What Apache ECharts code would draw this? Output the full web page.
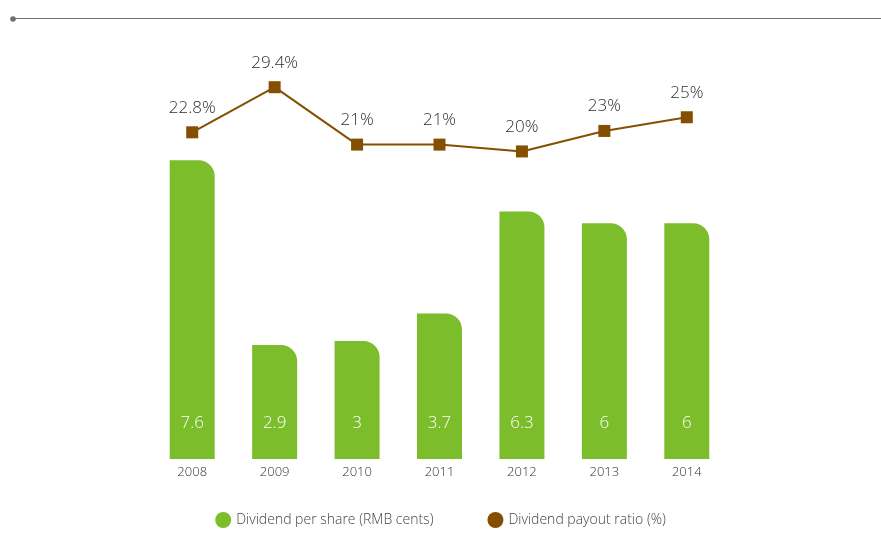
<!DOCTYPE html>
<html><head><meta charset="utf-8">
<script src="https://cdn.jsdelivr.net/npm/echarts@6/dist/echarts.min.js"></script>
<style>html,body{margin:0;padding:0;background:#fff}#c{width:881px;height:551px}</style>
</head><body><div id="c"></div>
<script>
var years = ['2008','2009','2010','2011','2012','2013','2014'];
var dividendPerShare = [7.6, 2.9, 3, 3.7, 6.3, 6, 6];
var payoutRatio = [22.8, 29.4, 21, 21, 20, 23, 25];
var seriesNames = ['Dividend per share (RMB cents)', 'Dividend payout ratio (%)'];

var FONT = '"Open Sans", "Noto Sans", sans-serif';
var chart = echarts.init(document.getElementById('c'), null, {renderer: 'canvas'});
chart.setOption({
  animation: false,
  textStyle: {fontFamily: FONT},
  graphic: [
    {type: 'line', shape: {x1: 13, y1: 18.5, x2: 881, y2: 18.5}, style: {stroke: '#6f6f6f', lineWidth: 1.2}},
    {type: 'circle', shape: {cx: 13, cy: 19, r: 2.8}, style: {fill: '#6f6f6f'}}
  ],
  grid: {left: 151, right: 153, top: 66, bottom: 92, containLabel: false},
  legend: {
    bottom: 18, left: 'center', itemGap: 54, itemWidth: 16, itemHeight: 16,
    textStyle: {fontSize: 14, color: '#444', fontFamily: FONT, fontWeight: 300},
    data: [
      {name: seriesNames[0], icon: 'circle', itemStyle: {color: '#7bbd2a'}},
      {name: seriesNames[1], icon: 'circle', itemStyle: {color: '#844f00'}}
    ]
  },
  xAxis: {
    type: 'category', data: years,
    axisLine: {show: false}, axisTick: {show: false},
    axisLabel: {color: '#333', fontSize: 13, margin: 7, fontFamily: FONT, fontWeight: 300}
  },
  yAxis: [
    {type: 'value', min: 0, max: 10, show: false},
    {type: 'value', min: -25, max: 32.5, show: false}
  ],
  series: [
    {
      name: seriesNames[0], type: 'bar', yAxisIndex: 0, data: dividendPerShare,
      barWidth: 45,
      itemStyle: {color: '#7bbd2a', borderRadius: [0, 16, 0, 0]},
      label: {show: true, position: 'insideBottom', distance: 27, color: '#fff', fontSize: 17, fontFamily: FONT, fontWeight: 300}
    },
    {
      name: seriesNames[1], type: 'line', yAxisIndex: 1, data: payoutRatio,
      symbol: 'rect', symbolSize: 12,
      lineStyle: {color: '#844f00', width: 2},
      itemStyle: {color: '#844f00'},
      label: {show: true, position: 'top', distance: 10, color: '#2e2e2e', fontSize: 17, fontFamily: FONT, fontWeight: 300,
        formatter: function(p){ return p.value + '%'; }}
    }
  ]
});
</script></body></html>
